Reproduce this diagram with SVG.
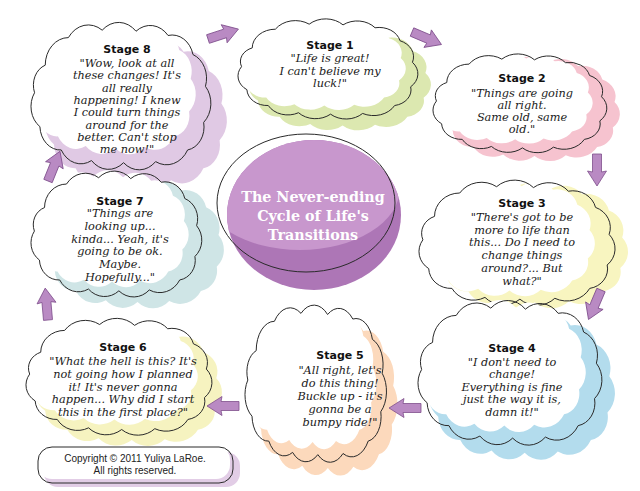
<svg xmlns="http://www.w3.org/2000/svg" xmlns:xlink="http://www.w3.org/1999/xlink" width="640" height="491" viewBox="0 0 640 491">
<style>
.ol{fill:none;stroke:#2a2a2a;stroke-width:1}
.wf{fill:#fff}
.ttl{font-family:"DejaVu Sans",sans-serif;font-weight:bold;font-size:11px;fill:#111;text-anchor:middle}
.q{font-family:"DejaVu Serif","Liberation Serif",serif;font-style:italic;font-size:11.3px;fill:#1a1a1a;text-anchor:middle}
.ctr{font-family:"DejaVu Serif",serif;font-weight:bold;font-size:14.3px;fill:#fff;text-anchor:middle}
.cp{font-family:"Liberation Sans",Arial,sans-serif;font-size:10px;fill:#222;text-anchor:middle}
.arr{fill:#b98ac3;stroke:#7f4f8c;stroke-width:0.8;stroke-linejoin:round}
</style>
<defs>
<path id="cloud" vector-effect="non-scaling-stroke" d="M16,36 A26,26 0 0 1 42,10 A27,27 0 0 1 80,3 A27,27 0 0 1 118,4 A26,26 0 0 1 154,8 A24,24 0 0 1 182,26 A24,24 0 0 1 196,56 A24,24 0 0 1 194,90 A22,22 0 0 1 176,116 A27,27 0 0 1 140,127 A26,26 0 0 1 104,128 A26,26 0 0 1 68,126 A25,25 0 0 1 34,116 A23,23 0 0 1 10,94 A23,23 0 0 1 4,62 A20,20 0 0 1 16,36 Z"/>
<path id="arrow" d="M0,-4.5 L18,-4.5 L17,-9.5 L32,0 L17,9.5 L18,4.5 L0,4.5 Z"/>
<clipPath id="blobclip"><ellipse cx="314" cy="215" rx="87" ry="75"/></clipPath>
</defs>
<rect width="640" height="491" fill="#fff"/>

<g id="center">
<ellipse cx="314" cy="215" rx="87" ry="75" fill="#ad76b6"/>
<ellipse cx="300" cy="188" rx="100" ry="62" fill="#c897cd" clip-path="url(#blobclip)"/>
<ellipse cx="306" cy="203" rx="89" ry="69" fill="none" stroke="#2a2a2a" stroke-width="1"/>
<text class="ctr" x="313" y="202">The Never-ending</text>
<text class="ctr" x="313" y="221">Cycle of Life's</text>
<text class="ctr" x="313" y="240">Transitions</text>
</g>

<g id="stage8">
<use xlink:href="#cloud" fill="#e0c9e4" transform="translate(45,43) scale(0.9,1.08)"/>
<use xlink:href="#cloud" class="wf" transform="translate(30,25) scale(0.82,0.96)"/>
<use xlink:href="#cloud" class="ol" transform="translate(31,27) scale(0.89,1.06)"/>
<text class="ttl" x="127" y="53">Stage 8</text>
<text class="q" x="127" y="67">"Wow, look at all</text>
<text class="q" x="127" y="79">these changes! It's</text>
<text class="q" x="127" y="92">all really</text>
<text class="q" x="127" y="104">happening! I knew</text>
<text class="q" x="127" y="116">I could turn things</text>
<text class="q" x="127" y="129">around for the</text>
<text class="q" x="127" y="141">better. Can't stop</text>
<text class="q" x="127" y="153">me now!"</text>
</g>

<g id="stage1">
<use xlink:href="#cloud" fill="#dce8b0" transform="translate(249,32) scale(0.9,0.73)"/>
<use xlink:href="#cloud" class="wf" transform="translate(238,21) scale(0.83,0.66)"/>
<use xlink:href="#cloud" class="ol" transform="translate(238,22) scale(0.89,0.72)"/>
<text class="ttl" x="330" y="49">Stage 1</text>
<text class="q" x="330" y="62">"Life is great!</text>
<text class="q" x="330" y="75">I can't believe my</text>
<text class="q" x="330" y="87">luck!"</text>
</g>

<g id="stage2">
<use xlink:href="#cloud" fill="#f6c3cf" transform="translate(444,60) scale(0.87,0.75)"/>
<use xlink:href="#cloud" class="wf" transform="translate(433,56) scale(0.79,0.65)"/>
<use xlink:href="#cloud" class="ol" transform="translate(433,57) scale(0.86,0.71)"/>
<text class="ttl" x="522" y="82">Stage 2</text>
<text class="q" x="522" y="97">"Things are going</text>
<text class="q" x="522" y="109">all right.</text>
<text class="q" x="522" y="121">Same old, same</text>
<text class="q" x="522" y="133">old."</text>
</g>

<g id="stage3">
<use xlink:href="#cloud" fill="#f8f5c0" transform="translate(436,187) scale(0.95,0.9)"/>
<use xlink:href="#cloud" class="wf" transform="translate(419,183) scale(0.87,0.84)"/>
<use xlink:href="#cloud" class="ol" transform="translate(419,184) scale(0.97,0.9)"/>
<text class="ttl" x="522" y="207">Stage 3</text>
<text class="q" x="522" y="221">"There's got to be</text>
<text class="q" x="522" y="234">more to life than</text>
<text class="q" x="522" y="246">this... Do I need to</text>
<text class="q" x="522" y="259">change things</text>
<text class="q" x="522" y="272">around?... But</text>
<text class="q" x="522" y="285">what?"</text>
</g>

<g id="stage4">
<use xlink:href="#cloud" fill="#b3dced" transform="translate(429,317) scale(0.92,1.06)"/>
<use xlink:href="#cloud" class="wf" transform="translate(418,304) scale(0.83,0.95)"/>
<use xlink:href="#cloud" class="ol" transform="translate(418,305) scale(0.91,1.04)"/>
<text class="ttl" x="512" y="352">Stage 4</text>
<text class="q" x="512" y="366">"I don't need to</text>
<text class="q" x="512" y="378">change!</text>
<text class="q" x="512" y="391">Everything is fine</text>
<text class="q" x="512" y="403">just the way it is,</text>
<text class="q" x="512" y="416">damn it!"</text>
</g>

<g id="stage5">
<use xlink:href="#cloud" fill="#fcd9bc" transform="translate(254,322) scale(0.71,1.14)"/>
<use xlink:href="#cloud" class="wf" transform="translate(245,309) scale(0.65,1.04)"/>
<use xlink:href="#cloud" class="ol" transform="translate(245,310) scale(0.7,1.13)"/>
<text class="ttl" x="340" y="359">Stage 5</text>
<text class="q" x="340" y="374">"All right, let's</text>
<text class="q" x="340" y="387">do this thing!</text>
<text class="q" x="340" y="400">Buckle up - it's</text>
<text class="q" x="340" y="413">gonna be a</text>
<text class="q" x="340" y="426">bumpy ride!"</text>
</g>

<g id="stage6">
<use xlink:href="#cloud" fill="#f6f3c0" transform="translate(36,330) scale(0.92,0.86)"/>
<use xlink:href="#cloud" class="wf" transform="translate(26,321) scale(0.85,0.77)"/>
<use xlink:href="#cloud" class="ol" transform="translate(26,322) scale(0.92,0.84)"/>
<text class="ttl" x="123" y="351">Stage 6</text>
<text class="q" x="123" y="365">"What the hell is this? It's</text>
<text class="q" x="123" y="378">not going how I planned</text>
<text class="q" x="123" y="391">it! It's never gonna</text>
<text class="q" x="123" y="403">happen... Why did I start</text>
<text class="q" x="123" y="416">this in the first place?"</text>
</g>

<g id="stage7">
<use xlink:href="#cloud" fill="#cfe5e6" transform="translate(46,183) scale(0.88,0.93)"/>
<use xlink:href="#cloud" class="wf" transform="translate(31,174) scale(0.78,0.84)"/>
<use xlink:href="#cloud" class="ol" transform="translate(31,175) scale(0.845,0.905)"/>
<text class="ttl" x="120" y="205">Stage 7</text>
<text class="q" x="120" y="217">"Things are</text>
<text class="q" x="120" y="230">looking up...</text>
<text class="q" x="120" y="243">kinda... Yeah, it's</text>
<text class="q" x="120" y="255">going to be ok.</text>
<text class="q" x="120" y="268">Maybe.</text>
<text class="q" x="120" y="281">Hopefully..."</text>
</g>

<g id="copyright">
<rect x="44" y="452" width="196" height="35" rx="14" fill="#e2cde6"/>
<rect x="38" y="446" width="192" height="33" rx="14" fill="#fff"/>
<rect x="38" y="447" width="195" height="36" rx="14" fill="none" stroke="#2a2a2a" stroke-width="1"/>
<text class="cp" x="135" y="462">Copyright © 2011 Yuliya LaRoe.</text>
<text class="cp" x="135" y="474">All rights reserved.</text>
</g>

<g id="connectors">
<use xlink:href="#arrow" class="arr" transform="translate(208,39) rotate(-18)"/>
<use xlink:href="#arrow" class="arr" transform="translate(412,32) rotate(23)"/>
<use xlink:href="#arrow" class="arr" transform="translate(597,154) rotate(90)"/>
<use xlink:href="#arrow" class="arr" transform="translate(601,290) rotate(113)"/>
<use xlink:href="#arrow" class="arr" transform="translate(421,408) rotate(180)"/>
<use xlink:href="#arrow" class="arr" transform="translate(239,406) rotate(180)"/>
<use xlink:href="#arrow" class="arr" transform="translate(48,320) rotate(-95)"/>
<use xlink:href="#arrow" class="arr" transform="translate(48,181) rotate(-68)"/>
</g>
</svg>
